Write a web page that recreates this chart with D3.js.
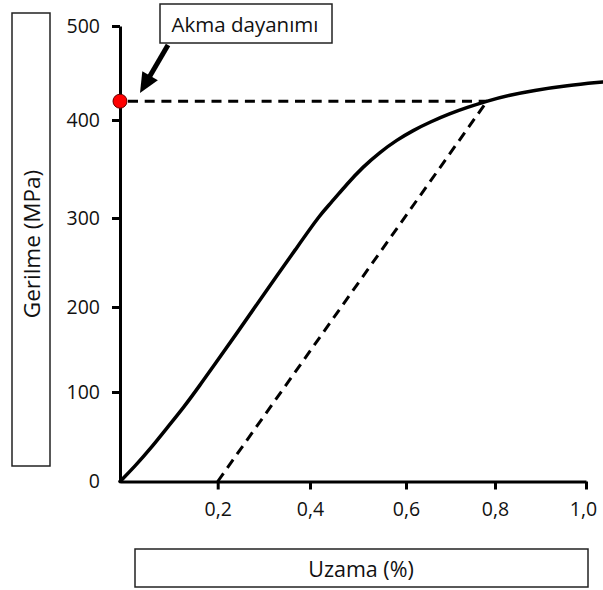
<!DOCTYPE html>
<html><head><meta charset="utf-8">
<script src="https://cdn.jsdelivr.net/npm/d3@7"></script>
<style>body{margin:0;background:#fff}svg{display:block}text{font-family:"Open Sans",sans-serif;fill:#111}</style>
</head><body><svg id="c" width="603" height="590"></svg>
<script>
// data
const strain = [0,0.031,0.0635,0.096,0.131,0.164,0.1945,0.242,0.298,0.372,0.421,0.442,0.477,0.510,0.546,0.581,0.616,0.654,0.699,0.737,0.782,0.833,0.8835,0.958,1.037];
const stress = [0,17.3,37.4,59.8,83.2,108.2,133.3,169.4,212.9,267.1,303.5,314.3,334.7,352,367.3,379.6,389.4,397.9,406.9,413.3,420.2,426.6,431.4,436.7,440.4];
const xTickValues = [0.2,0.4,0.6,0.8,1.0];
const xTickLabels = ["0,2","0,4","0,6","0,8","1,0"];
const yTickValues = [0,100,200,300,400,500];
const yTickLabels = ["0","100","200","300","400","500"];
const yieldStress = 420;
const offsetStrain = 0.2;
const yieldStrain = 0.782;
const xLabel = "Uzama (%)";
const yLabel = "Gerilme (MPa)";
const annotation = "Akma dayanımı";

const svg = d3.select("#c");
const x = d3.scaleLinear().domain([0,0.2,0.4,0.6,0.8,1.0]).range([120,217.7,310,406,495,586]);
const y = d3.scaleLinear().domain([0,100,200,300,400,500]).range([481.5,392,307,218,120,26]);

// axes
const xAxis = d3.axisBottom(x).tickValues(xTickValues).tickSize(8).tickSizeOuter(0).tickPadding(13)
  .tickFormat((d,i)=>xTickLabels[i]);
const gx = svg.append("g").attr("transform",`translate(0,${y(0)})`).call(xAxis);
const yAxis = d3.axisLeft(y).tickValues(yTickValues).tickSize(8).tickSizeOuter(0).tickPadding(12)
  .tickFormat((d,i)=>yTickLabels[i]);
const gy = svg.append("g").attr("transform",`translate(${x(0)},0)`).call(yAxis);
[gx,gy].forEach(g=>{
  g.select(".domain").attr("stroke","#000").attr("stroke-width",3);
  g.selectAll(".tick line").attr("stroke","#000").attr("stroke-width",3);
  g.selectAll(".tick text").attr("font-size",19.5).attr("fill","#111").style("font-family","'Open Sans',sans-serif");
});
gy.selectAll(".tick").filter(d=>d===0).select("line").remove();
gx.selectAll(".tick").filter(d=>d===1.0).select("text").attr("dx",-3);

// dashed lines
svg.append("line").attr("x1",x(0)+8).attr("x2",x(yieldStrain)).attr("y1",y(yieldStress)).attr("y2",y(yieldStress))
  .attr("stroke","#000").attr("stroke-width",3).attr("stroke-dasharray","10,6.7");
svg.append("line").attr("x1",x(offsetStrain)).attr("y1",y(0)).attr("x2",x(yieldStrain)).attr("y2",y(yieldStress))
  .attr("stroke","#000").attr("stroke-width",3).attr("stroke-dasharray","10,6.7");

// curve
const pts = strain.map((s,i)=>[s,stress[i]]);
svg.append("path").datum(pts)
  .attr("d",d3.line().x(d=>x(d[0])).y(d=>y(d[1])).curve(d3.curveBasis))
  .attr("fill","none").attr("stroke","#000").attr("stroke-width",3.5).attr("stroke-linecap","round");

// yield point
svg.append("circle").attr("cx",x(0)).attr("cy",y(yieldStress)).attr("r",7)
  .attr("fill","#f00").attr("stroke","#600").attr("stroke-width",1);

// annotation box
svg.append("rect").attr("x",160).attr("y",4).attr("width",172).attr("height",39)
  .attr("fill","#fff").attr("stroke","#222").attr("stroke-width",1.5);
svg.append("text").attr("x",245).attr("y",24).attr("text-anchor","middle").attr("dominant-baseline","central")
  .attr("font-size",20.5).text(annotation);

// arrow
const tip=[140,93], start=[168,45];
const dx=tip[0]-start[0], dy=tip[1]-start[1], L=Math.hypot(dx,dy), ux=dx/L, uy=dy/L;
const hl=20, hw=9;
const bx=tip[0]-ux*hl, by=tip[1]-uy*hl;
svg.append("line").attr("x1",start[0]).attr("y1",start[1]).attr("x2",bx+ux*2).attr("y2",by+uy*2)
  .attr("stroke","#000").attr("stroke-width",5);
svg.append("path").attr("d",`M${tip[0]},${tip[1]}L${bx-uy*hw},${by+ux*hw}L${bx+uy*hw},${by-ux*hw}Z`).attr("fill","#000");

// axis label boxes
svg.append("rect").attr("x",12).attr("y",13).attr("width",38).attr("height",453)
  .attr("fill","#fff").attr("stroke","#222").attr("stroke-width",1.5);
svg.append("text").attr("transform","translate(31,244) rotate(-90)").attr("text-anchor","middle")
  .attr("dominant-baseline","central").attr("font-size",22.5).text(yLabel);
svg.append("rect").attr("x",135).attr("y",549).attr("width",453).attr("height",38)
  .attr("fill","#fff").attr("stroke","#222").attr("stroke-width",1.5);
svg.append("text").attr("x",361).attr("y",568).attr("text-anchor","middle")
  .attr("dominant-baseline","central").attr("font-size",21.5).text(xLabel);
</script></body></html>
